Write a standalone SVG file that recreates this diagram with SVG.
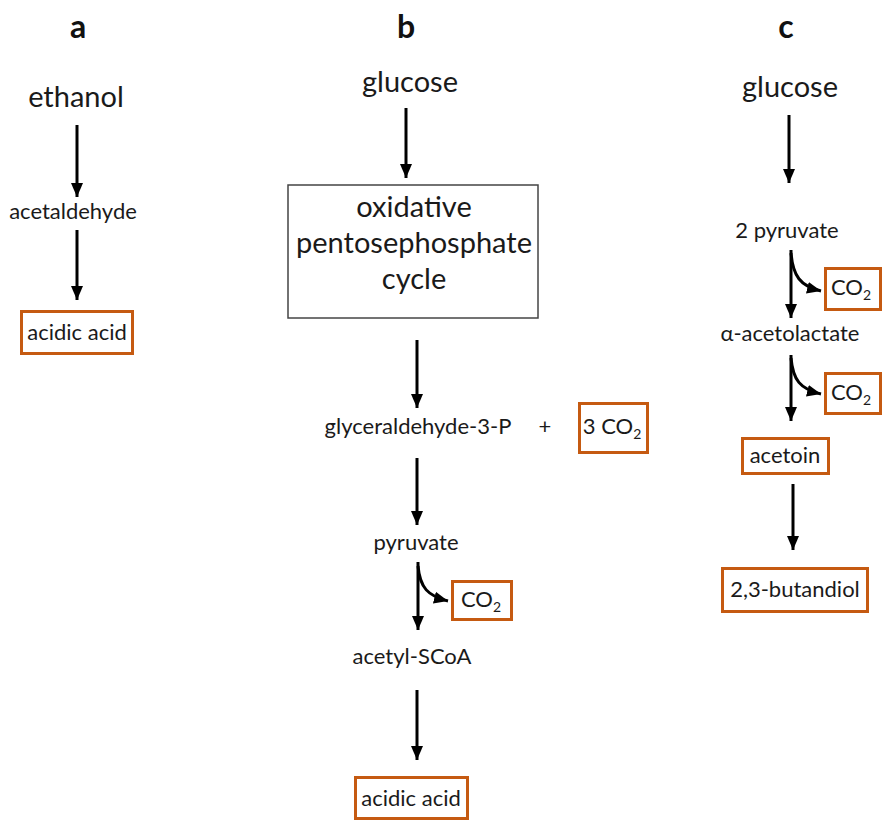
<svg xmlns="http://www.w3.org/2000/svg" width="887" height="820" viewBox="0 0 887 820">
<style>
text{font-family:Lato,"Open Sans","Liberation Sans",sans-serif;fill:#1a1a1a;text-anchor:middle}
.h{font-weight:bold;font-size:32px;fill:#111}
.big{font-size:29px}
.mid{font-size:22px}
.sub{font-size:14px}
.obox{fill:#fff;stroke:#C55A11;stroke-width:3}
.box{fill:#fff;stroke:#444;stroke-width:1.5}
.arr{fill:none;stroke:#000;stroke-width:3;marker-end:url(#ah)}
</style>
<defs>
<marker id="ah" markerUnits="userSpaceOnUse" markerWidth="15" markerHeight="15" viewBox="0 0 15 15" refX="14" refY="7.5" orient="auto">
<path d="M0,1.5 L14,7.5 L0,13.5 Z" fill="#000"/>
</marker>
</defs>
<g id="labels">
<text class="h" x="78" y="38">a</text>
<text class="h" x="406" y="38">b</text>
<text class="h" x="786" y="38">c</text>
</g>
<g id="ethanol"><text class="big" x="76" y="107">ethanol</text></g>
<g id="acetaldehyde"><text class="mid" x="73" y="219">acetaldehyde</text></g>
<g id="acidic-acid-a"><rect class="obox" x="21.5" y="311.5" width="111" height="42"/><text class="mid" x="77" y="340">acidic acid</text></g>
<g id="glucose-b"><text class="big" x="410" y="92">glucose</text></g>
<g id="ppp"><rect class="box" x="288" y="185" width="250" height="133"/>
<text class="big" x="414" y="217">oxidative</text>
<text class="big" x="414" y="253">pentosephosphate</text>
<text class="big" x="414" y="289">cycle</text></g>
<g id="g3p"><text class="mid" x="418" y="434">glyceraldehyde-3-P</text></g>
<g id="plus"><text class="mid" x="545" y="434">+</text></g>
<g id="co2-3"><rect class="obox" x="579.5" y="403.5" width="68" height="49"/><text class="mid" x="612" y="434">3 CO<tspan class="sub" dy="5">2</tspan></text></g>
<g id="pyruvate-b"><text class="mid" x="416" y="550">pyruvate</text></g>
<g id="co2-b"><rect class="obox" x="452.5" y="581.5" width="59" height="38"/><text class="mid" x="481" y="607">CO<tspan class="sub" dy="5">2</tspan></text></g>
<g id="acetylscoa"><text class="mid" x="412" y="664">acetyl-SCoA</text></g>
<g id="acidic-acid-b"><rect class="obox" x="355.5" y="777.5" width="112" height="41"/><text class="mid" x="411" y="806">acidic acid</text></g>
<g id="glucose-c"><text class="big" x="790" y="97">glucose</text></g>
<g id="pyruvate-c"><text class="mid" x="787" y="238">2 pyruvate</text></g>
<g id="co2-c1"><rect class="obox" x="825.5" y="268.5" width="55" height="41"/><text class="mid" x="851" y="295">CO<tspan class="sub" dy="5">2</tspan></text></g>
<g id="acetolactate"><text class="mid" x="790" y="341">α-acetolactate</text></g>
<g id="co2-c2"><rect class="obox" x="825.5" y="373.5" width="55" height="40"/><text class="mid" x="851" y="400">CO<tspan class="sub" dy="5">2</tspan></text></g>
<g id="acetoin"><rect class="obox" x="742.5" y="438.5" width="86" height="35"/><text class="mid" x="785" y="463">acetoin</text></g>
<g id="butandiol"><rect class="obox" x="722.5" y="568.5" width="145" height="43"/><text class="mid" x="795" y="597">2,3-butandiol</text></g>
<g id="connectors">
<path class="arr" d="M77,125 V197"/>
<path class="arr" d="M77,230 V300"/>
<path class="arr" d="M406,108 V178"/>
<path class="arr" d="M417,340 V408"/>
<path class="arr" d="M417,458 V525"/>
<path class="arr" d="M418,562 V630"/>
<path class="arr" d="M418,566 C420,588 428,596 448,601"/>
<path class="arr" d="M417,690 V760"/>
<path class="arr" d="M789,115 V183"/>
<path class="arr" d="M791,250 V318"/>
<path class="arr" d="M791,253 C793,276 800,286 821,291"/>
<path class="arr" d="M791,355 V421"/>
<path class="arr" d="M791,358 C793,380 800,389 821,394"/>
<path class="arr" d="M793,484 V550"/>
</g>
</svg>
